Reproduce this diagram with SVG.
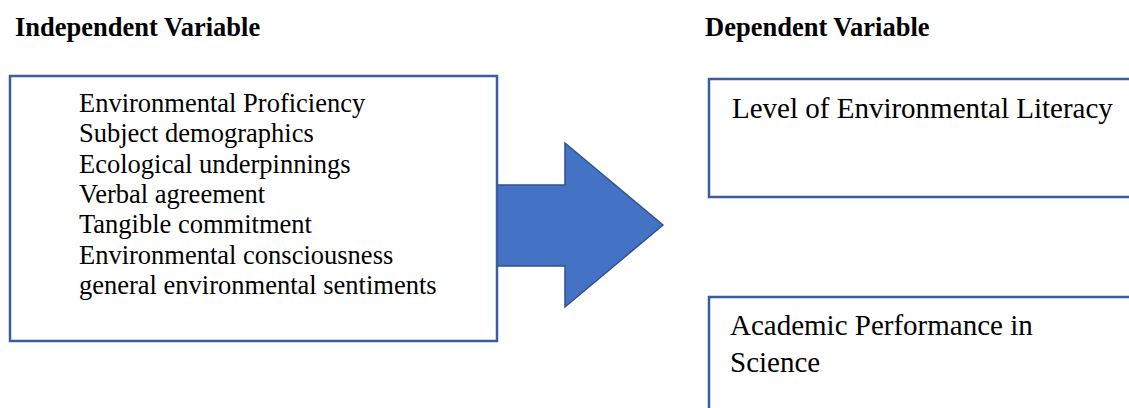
<svg xmlns="http://www.w3.org/2000/svg" width="1129" height="408" viewBox="0 0 1129 408">
  <style>
    .hdr { font-family: "Liberation Serif", "Times New Roman", serif; font-weight: bold; font-size: 26.5px; fill: #000; }
    .body { font-family: "Liberation Serif", "Times New Roman", serif; font-size: 26.5px; fill: #000; }
    .body2 { font-family: "Liberation Serif", "Times New Roman", serif; font-size: 29px; fill: #000; }
    .box { fill: #fff; stroke: #3a5d9c; stroke-width: 2.5; }
    .arrow { fill: #4472c4; stroke: #2f528f; stroke-width: 1.5; }
  </style>
  <rect width="1129" height="408" fill="#fff"/>
  <text class="hdr" x="15" y="36">Independent Variable</text>
  <text class="hdr" x="705" y="36">Dependent Variable</text>
  <g id="connectors">
    <polygon class="arrow" points="497,185 565,185 565,143 663,225 565,307 565,266 497,266"/>
  </g>
  <g id="independent">
    <rect class="box" x="10" y="76" width="487" height="265"/>
    <text class="body" x="79" y="112">Environmental Proficiency</text>
    <text class="body" x="79" y="142.3">Subject demographics</text>
    <text class="body" x="79" y="172.6">Ecological underpinnings</text>
    <text class="body" x="79" y="202.9">Verbal agreement</text>
    <text class="body" x="79" y="233.2">Tangible commitment</text>
    <text class="body" x="79" y="263.5">Environmental consciousness</text>
    <text class="body" x="79" y="293.8">general environmental sentiments</text>
  </g>
  <g id="literacy">
    <rect class="box" x="709" y="79" width="500" height="118"/>
    <text class="body2" x="732" y="118">Level of Environmental Literacy</text>
  </g>
  <g id="performance">
    <rect class="box" x="709" y="297" width="500" height="200"/>
    <text class="body2" x="730" y="335">Academic Performance in</text>
    <text class="body2" x="730" y="372">Science</text>
  </g>
</svg>
